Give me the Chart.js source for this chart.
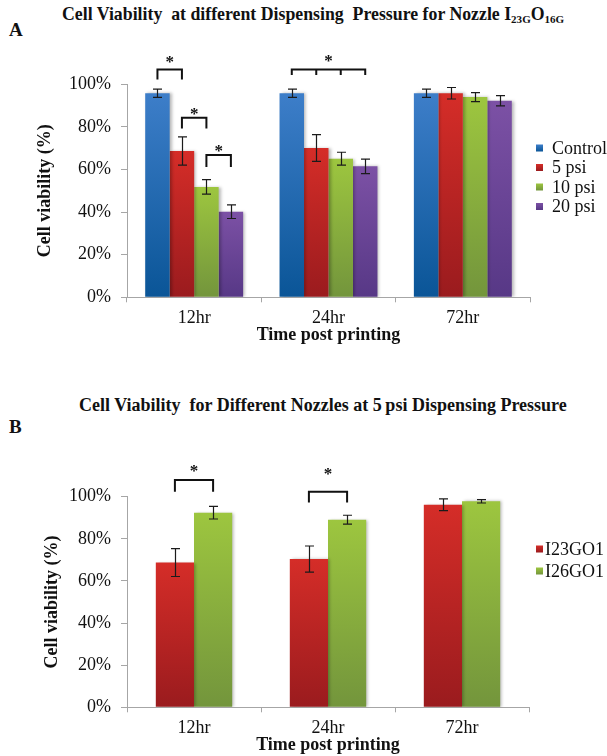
<!DOCTYPE html>
<html>
<head>
<meta charset="utf-8">
<script src="https://cdn.jsdelivr.net/npm/chart.js@4.4.1/dist/chart.umd.min.js"></script>
<style>
  html, body { margin:0; padding:0; background:#fff; }
  body { width:607px; height:756px; position:relative; overflow:hidden; font-family:"Liberation Serif", "Times New Roman", serif; }
  .t { position:absolute; font-weight:bold; color:#111; white-space:nowrap; }
  .t sub { font-size:0.62em; vertical-align:-0.25em; }
  #wa { position:absolute; left:0; top:0; width:607px; height:390px; }
  #wb { position:absolute; left:0; top:390px; width:607px; height:366px; }
</style>
</head>
<body>
<div class="t" id="titleA" style="left:62px; top:4px; font-size:17.8px;">Cell Viability&nbsp; at different Dispensing&nbsp; Pressure for Nozzle I<sub>23G</sub>O<sub>16G</sub></div>
<div class="t" style="left:9px; top:19px; font-size:19px;">A</div>
<div class="t" id="titleB" style="left:79px; top:395px; font-size:18px;">Cell Viability&nbsp; for Different Nozzles at 5&#8201;psi Dispensing Pressure</div>
<div class="t" style="left:9px; top:416px; font-size:19px;">B</div>
<div id="wa"><canvas id="ca" width="607" height="390"></canvas></div>
<div id="wb"><canvas id="cb" width="607" height="366"></canvas></div>
<script>
// ---- data ----
const timeLabels = ['12hr', '24hr', '72hr'];
const yTickValues = [0, 20, 40, 60, 80, 100];

const seriesNamesA = ['Control', '5 psi', '10 psi', '20 psi'];
const controlA = [95.8, 95.8, 95.8];
const psi5A    = [68.7, 70.1, 95.8];
const psi10A   = [51.8, 65.1, 94.0];
const psi20A   = [40.2, 61.5, 92.3];
const controlErrA = [1.9, 1.9, 1.9];
const psi5ErrA    = [6.6, 6.3, 2.7];
const psi10ErrA   = [3.4, 3.0, 2.1];
const psi20ErrA   = [3.2, 3.4, 2.4];

const seriesNamesB = ['I23GO1', 'I26GO1'];
const i23B = [68.7, 70.4, 96.2];
const i26B = [92.4, 89.1, 97.8];
const i23ErrB = [6.6, 6.2, 2.8];
const i26ErrB = [3.0, 2.1, 0.8];

// significance brackets (category index, bars joined, bracket top / leg end / star, in % units)
const bracketsA = [
  { cat: 0, bars: [0, 1], top: 107.0, leg: 102.3, star: 111.9 },
  { cat: 0, bars: [1, 2], top: 84.3, leg: 79.3, star: 87.5 },
  { cat: 0, bars: [2, 3], top: 66.8, leg: 61.2, star: 69.9 },
  { cat: 1, bars: [0, 1, 2, 3], top: 107.0, leg: 104.4, star: 112.3 }
];
const bracketsB = [
  { cat: 0, bars: [0, 1], top: 107.9, leg: 102.4, star: 113.6 },
  { cat: 1, bars: [0, 1], top: 102.4, leg: 97.2, star: 112.2 }
];

// ---- styles ----
const COLORS = {
  blue:   ['#3d7ec9', '#0a5597'],
  red:    ['#d52d28', '#9a1b1e'],
  green:  ['#9dc63f', '#73953c'],
  purple: ['#7c51a5', '#573886']
};
const FONT = '"Liberation Serif", "Times New Roman", serif';

function gradFill(pair) {
  return (ctx) => {
    const chart = ctx.chart;
    if (!chart.chartArea || ctx.type !== 'data') return pair[0];
    const ys = chart.scales.y;
    const y0 = ys.getPixelForValue(ctx.raw);
    const y1 = ys.getPixelForValue(0);
    if (!isFinite(y0) || !isFinite(y1) || y0 === y1) return pair[0];
    const g = chart.ctx.createLinearGradient(0, y0, 0, y1);
    g.addColorStop(0, pair[0]);
    g.addColorStop(1, pair[1]);
    return g;
  };
}

const annotPlugin = {
  id: 'annot',
  beforeDatasetsDraw(chart) {
    const c = chart.ctx;
    c.save();
    c.shadowColor = 'rgba(0,0,0,0.28)';
    c.shadowBlur = 3;
    c.shadowOffsetX = 2;
    c.shadowOffsetY = 0;
  },
  afterDatasetsDraw(chart, args, opts) {
    const c = chart.ctx;
    c.restore();
    const ys = chart.scales.y;
    // error bars
    c.save();
    c.strokeStyle = '#1b1b1b';
    c.lineWidth = 1.2;
    chart.data.datasets.forEach((ds, i) => {
      const meta = chart.getDatasetMeta(i);
      meta.data.forEach((el, j) => {
        const v = ds.data[j], e = ds.errors[j];
        const x = Math.round(el.x) + 0.5;
        const yt = ys.getPixelForValue(v + e), yb = ys.getPixelForValue(v - e);
        c.beginPath();
        c.moveTo(x, yt); c.lineTo(x, yb);
        c.moveTo(x - 4.5, yt); c.lineTo(x + 4.5, yt);
        c.moveTo(x - 4.5, yb); c.lineTo(x + 4.5, yb);
        c.stroke();
      });
    });
    // brackets and stars
    c.strokeStyle = '#111';
    c.lineWidth = 2;
    c.fillStyle = '#111';
    c.font = 'bold 17px ' + FONT;
    c.textAlign = 'center';
    c.textBaseline = 'alphabetic';
    opts.brackets.forEach(b => {
      const xs = b.bars.map(k => chart.getDatasetMeta(k).data[b.cat].x);
      const yt = ys.getPixelForValue(b.top), yl = ys.getPixelForValue(b.leg);
      const x0 = xs[0], x1 = xs[xs.length - 1];
      c.beginPath();
      c.moveTo(x0, yl); c.lineTo(x0, yt); c.lineTo(x1, yt); c.lineTo(x1, yl);
      xs.slice(1, -1).forEach(x => { c.moveTo(x, yt); c.lineTo(x, yl); });
      c.stroke();
      c.fillText('*', (x0 + x1) / 2, ys.getPixelForValue(b.star) + 8);
    });
    c.restore();
    // legend
    const L = opts.legend;
    c.save();
    c.font = '18px ' + FONT;
    c.textBaseline = 'middle';
    c.textAlign = 'left';
    chart.data.datasets.forEach((ds, i) => {
      const y = L.y + i * L.dy;
      const g = c.createLinearGradient(0, y - 3.5, 0, y + 3.5);
      g.addColorStop(0, ds.pair[0]); g.addColorStop(1, ds.pair[1]);
      c.fillStyle = g;
      c.fillRect(L.x, y - 3.5, 7, 7);
      c.fillStyle = '#111';
      c.fillText(ds.label, L.tx, y + 1);
    });
    c.restore();
  }
};

function makeScales(yWidth, xHeight, xTitlePad) {
  return {
    x: {
      type: 'category',
      grid: { display: true, drawOnChartArea: false, drawTicks: true, tickLength: 5, color: '#a6a6a6', offset: true },
      border: { display: true, color: '#a6a6a6', width: 1 },
      ticks: { color: '#111', font: { family: FONT, size: 18 }, padding: 5, maxRotation: 0 },
      title: { display: true, text: 'Time post printing', color: '#111', font: { family: FONT, size: 18, weight: 'bold' }, padding: { top: 0, bottom: xTitlePad } },
      afterFit(s) { s.height = xHeight; }
    },
    y: {
      min: 0, max: 100,
      afterBuildTicks(s) { s.ticks = yTickValues.map(v => ({ value: v })); },
      grid: { display: true, drawOnChartArea: false, drawTicks: true, tickLength: 6, color: '#a6a6a6' },
      border: { display: true, color: '#a6a6a6', width: 1 },
      ticks: { color: '#111', font: { family: FONT, size: 18 }, padding: 10, callback: v => v + '%' },
      title: { display: true, text: 'Cell viability (%)', color: '#111', font: { family: FONT, size: 18, weight: 'bold' }, padding: { top: 4, bottom: 4 } },
      afterFit(s) { s.width = yWidth; }
    }
  };
}

function ds(label, data, errors, pair) {
  return { label, data, errors, pair, backgroundColor: gradFill(pair), borderWidth: 0,
           categoryPercentage: 1, barPercentage: 1 };
}

new Chart(document.getElementById('ca'), {
  type: 'bar',
  data: {
    labels: timeLabels,
    datasets: [
      ds(seriesNamesA[0], controlA, controlErrA, COLORS.blue),
      ds(seriesNamesA[1], psi5A, psi5ErrA, COLORS.red),
      ds(seriesNamesA[2], psi10A, psi10ErrA, COLORS.green),
      ds(seriesNamesA[3], psi20A, psi20ErrA, COLORS.purple)
    ].map(d => Object.assign(d, { categoryPercentage: 0.729 }))
  },
  options: {
    responsive: false, animation: false,
    layout: { padding: { top: 84.3, left: 30.2, right: 77, bottom: 40.2 } },
    scales: makeScales(96.8, 52.5, 4),
    plugins: {
      legend: { display: false }, tooltip: { enabled: false },
      annot: { brackets: bracketsA, legend: { x: 536, tx: 552, y: 148, dy: 19.5 } }
    }
  },
  plugins: [annotPlugin]
});

new Chart(document.getElementById('cb'), {
  type: 'bar',
  data: {
    labels: timeLabels,
    datasets: [
      ds(seriesNamesB[0], i23B, i23ErrB, COLORS.red),
      ds(seriesNamesB[1], i26B, i26ErrB, COLORS.green)
    ].map(d => Object.assign(d, { categoryPercentage: 0.57 }))
  },
  options: {
    responsive: false, animation: false,
    layout: { padding: { top: 106.7, left: 37.2, right: 78, bottom: 0.3 } },
    scales: makeScales(89.8, 48.4, 0),
    plugins: {
      legend: { display: false }, tooltip: { enabled: false },
      annot: { brackets: bracketsB, legend: { x: 536, tx: 545, y: 159, dy: 22 } }
    }
  },
  plugins: [annotPlugin]
});
</script>
</body>
</html>
